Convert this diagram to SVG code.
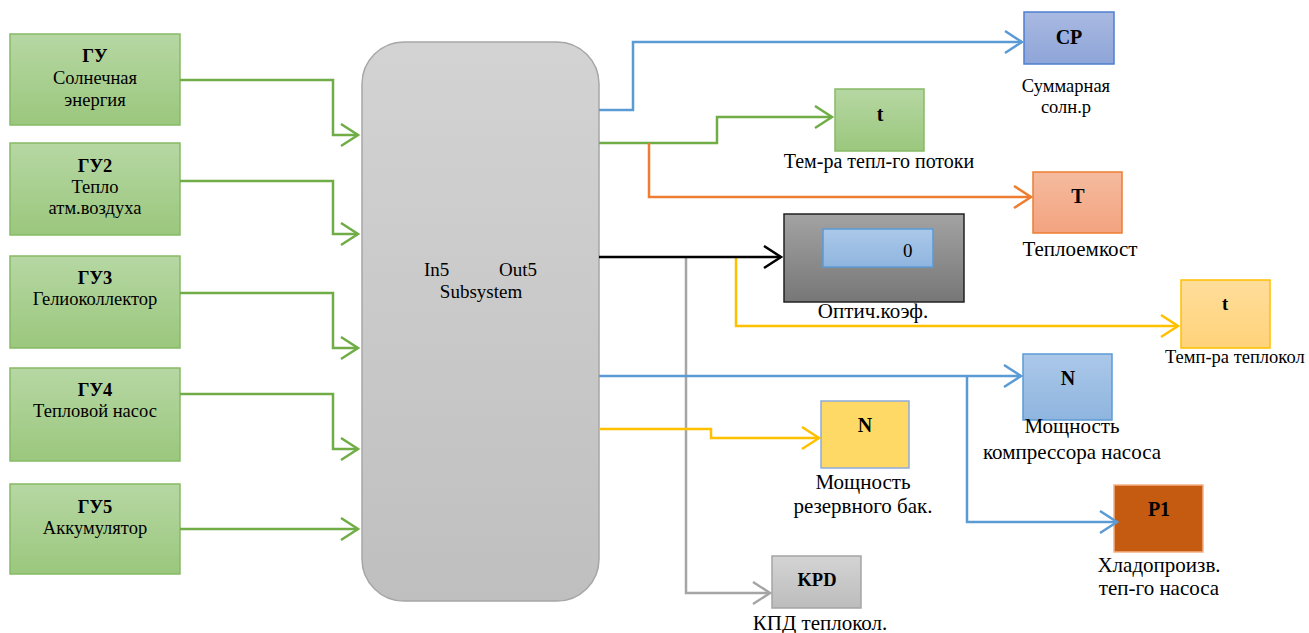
<svg xmlns="http://www.w3.org/2000/svg" width="1309" height="633" viewBox="0 0 1309 633">
<defs>
<linearGradient id="gGreen" x1="0" y1="0" x2="0" y2="1"><stop offset="0" stop-color="#b6d7a3"/><stop offset="1" stop-color="#9bc77d"/></linearGradient>
<linearGradient id="gSub" x1="0" y1="0" x2="0" y2="1"><stop offset="0" stop-color="#d3d3d3"/><stop offset="1" stop-color="#bfbfbf"/></linearGradient>
<linearGradient id="gCP" x1="0" y1="0" x2="0" y2="1"><stop offset="0" stop-color="#a9b9e1"/><stop offset="1" stop-color="#8ea5d8"/></linearGradient>
<linearGradient id="gOr" x1="0" y1="0" x2="0" y2="1"><stop offset="0" stop-color="#f5bb9f"/><stop offset="1" stop-color="#f3a37f"/></linearGradient>
<linearGradient id="gYel" x1="0" y1="0" x2="0" y2="1"><stop offset="0" stop-color="#ffdd9a"/><stop offset="1" stop-color="#ffd37a"/></linearGradient>
<linearGradient id="gBlue" x1="0" y1="0" x2="0" y2="1"><stop offset="0" stop-color="#abc8e9"/><stop offset="1" stop-color="#8fb5df"/></linearGradient>
<linearGradient id="gGray" x1="0" y1="0" x2="0" y2="1"><stop offset="0" stop-color="#d4d4d4"/><stop offset="1" stop-color="#bcbcbc"/></linearGradient>
<linearGradient id="gDark" x1="0" y1="0" x2="0" y2="1"><stop offset="0" stop-color="#a3a3a3"/><stop offset="1" stop-color="#777777"/></linearGradient>
<marker id="aGreen" markerUnits="userSpaceOnUse" markerWidth="24" markerHeight="26" refX="18" refY="12" orient="auto"><path d="M1,1 L18,12 L1,23" fill="none" stroke="#70ad47" stroke-width="2.5"/></marker>
<marker id="aBlue" markerUnits="userSpaceOnUse" markerWidth="24" markerHeight="26" refX="18" refY="12" orient="auto"><path d="M1,1 L18,12 L1,23" fill="none" stroke="#5b9bd5" stroke-width="2.5"/></marker>
<marker id="aOrange" markerUnits="userSpaceOnUse" markerWidth="24" markerHeight="26" refX="18" refY="12" orient="auto"><path d="M1,1 L18,12 L1,23" fill="none" stroke="#ed7d31" stroke-width="2.5"/></marker>
<marker id="aYellow" markerUnits="userSpaceOnUse" markerWidth="24" markerHeight="26" refX="18" refY="12" orient="auto"><path d="M1,1 L18,12 L1,23" fill="none" stroke="#ffc000" stroke-width="2.5"/></marker>
<marker id="aGray" markerUnits="userSpaceOnUse" markerWidth="24" markerHeight="26" refX="18" refY="12" orient="auto"><path d="M1,1 L18,12 L1,23" fill="none" stroke="#a5a5a5" stroke-width="2.5"/></marker>
<marker id="aBlack" markerUnits="userSpaceOnUse" markerWidth="24" markerHeight="26" refX="18" refY="12" orient="auto"><path d="M1,1 L18,12 L1,23" fill="none" stroke="#000000" stroke-width="2.5"/></marker>
</defs>
<style>
text{font-family:'Liberation Serif','Times New Roman',serif;fill:#000;}
.c{text-anchor:middle;}
.t18{font-size:18.5px;}
.t19{font-size:19px;}
.t20{font-size:20px;}
.t21{font-size:21px;}
.b{font-weight:bold;font-size:20px;}
.bs{font-weight:bold;font-size:18.5px;}
.gbox{fill:url(#gGreen);stroke:#86bb66;stroke-width:1.5;}
.ln{fill:none;stroke-width:2.5;}
.lg{stroke:#70ad47;marker-end:url(#aGreen);}
.lb{stroke:#5b9bd5;}
.lo{stroke:#ed7d31;}
.ly{stroke:#ffc000;}
.lgr{stroke:#a5a5a5;}
.lk{stroke:#000;}
</style>
<rect width="1309" height="633" fill="#ffffff"/>

<g id="gu1"><rect class="gbox" x="10" y="34" width="170" height="91"/><text class="c bs" x="95" y="62">ГУ</text><text class="c t18" x="95" y="84">Солнечная</text><text class="c t18" x="95" y="106">энергия</text></g>
<g id="gu2"><rect class="gbox" x="10" y="143" width="170" height="92"/><text class="c bs" x="95" y="172">ГУ2</text><text class="c t18" x="95" y="193">Тепло</text><text class="c t18" x="95" y="214">атм.воздуха</text></g>
<g id="gu3"><rect class="gbox" x="10" y="256" width="170" height="92"/><text class="c bs" x="95" y="284">ГУ3</text><text class="c t18" x="95" y="305">Гелиоколлектор</text></g>
<g id="gu4"><rect class="gbox" x="10" y="368" width="170" height="93"/><text class="c bs" x="95" y="396">ГУ4</text><text class="c t18" x="95" y="417">Тепловой насос</text></g>
<g id="gu5"><rect class="gbox" x="10" y="484" width="170" height="90"/><text class="c bs" x="95" y="513">ГУ5</text><text class="c t18" x="95" y="534">Аккумулятор</text></g>

<g id="subsystem"><rect x="362" y="42" width="237" height="559" rx="42" ry="42" fill="url(#gSub)" stroke="#a6a6a6" stroke-width="1.5"/><text class="t19" x="424" y="276">In5</text><text class="t19" x="499" y="276">Out5</text><text class="c t19" x="481" y="298">Subsystem</text></g>

<g id="cp"><rect x="1024" y="12" width="90" height="52" fill="url(#gCP)" stroke="#4f7fcf" stroke-width="1.5"/><text class="c b" x="1069" y="44">CP</text><text class="c t18" x="1066" y="92">Суммарная</text><text class="c t18" x="1066" y="113">солн.р</text></g>
<g id="t-green"><rect x="835" y="89" width="89" height="62" fill="url(#gGreen)" stroke="#86bb66" stroke-width="1.5"/><text class="c b" x="880" y="121">t</text><text class="c t20" x="879" y="168">Тем-ра тепл-го потоки</text></g>
<g id="T-orange"><rect x="1033" y="172" width="89" height="61" fill="url(#gOr)" stroke="#ed7d31" stroke-width="1.5"/><text class="c b" x="1078" y="203">T</text><text class="c t21" x="1080" y="256">Теплоемкост</text></g>
<g id="display"><rect x="784" y="214" width="180" height="88" fill="url(#gDark)" stroke="#222" stroke-width="1.5"/><rect x="823" y="229" width="110" height="38" fill="url(#gBlue)" stroke="#5b9bd5" stroke-width="1.5"/><text class="t19" x="903" y="257">0</text><text class="c t21" x="873" y="318">Оптич.коэф.</text></g>
<g id="t-yellow"><rect x="1181" y="280" width="89" height="68" fill="url(#gYel)" stroke="#ffc000" stroke-width="1.5"/><text class="c bs" x="1225" y="310">t</text><text class="t18" x="1165" y="363">Темп-ра теплокол</text></g>
<g id="N-blue"><rect x="1023" y="354" width="89" height="66" fill="url(#gBlue)" stroke="#5b9bd5" stroke-width="1.5"/><text class="c b" x="1068" y="385">N</text><text class="c t21" x="1072" y="433">Мощность</text><text class="c t21" x="1072" y="459">компрессора насоса</text></g>
<g id="N-yellow"><rect x="821" y="401" width="88" height="67" fill="#ffd966" stroke="#8eaadb" stroke-width="1.5"/><text class="c b" x="865" y="432">N</text><text class="c t21" x="863" y="489">Мощность</text><text class="c t21" x="863" y="513">резервного бак.</text></g>
<g id="P1"><rect x="1114" y="485" width="89" height="67" fill="#c55a11" stroke="#f4b183" stroke-width="1.5"/><text class="c b" x="1159" y="516">P1</text><text class="c t21" x="1159" y="572">Хладопроизв.</text><text class="c t21" x="1159" y="595">теп-го насоса</text></g>
<g id="KPD"><rect x="772" y="556" width="89" height="52" fill="url(#gGray)" stroke="#a5a5a5" stroke-width="1.5"/><text class="c bs" x="817" y="586">KPD</text><text class="c t21" x="820" y="630">КПД теплокол.</text></g>

<g id="connectors">
<path class="ln lg" d="M180,80 H333 V135 H358"/>
<path class="ln lg" d="M180,181 H333 V234 H358"/>
<path class="ln lg" d="M180,293 H333 V348 H358"/>
<path class="ln lg" d="M180,394 H333 V449 H358"/>
<path class="ln lg" d="M180,529 H358"/>
<path class="ln lb" d="M599,110 H633 V42 H1022" marker-end="url(#aBlue)"/>
<path class="ln lg" d="M599,143 H717 V117 H832"/>
<path class="ln lo" d="M649,143 V197 H1031" marker-end="url(#aOrange)"/>
<path class="ln lgr" d="M686,257 V593 H770" marker-end="url(#aGray)"/>
<path class="ln ly" d="M736,257 V326 H1178" marker-end="url(#aYellow)"/>
<path class="ln lk" d="M599,257 H781" marker-end="url(#aBlack)"/>
<path class="ln lb" d="M599,376 H1021" marker-end="url(#aBlue)"/>
<path class="ln lb" d="M967,376 V522 H1117" marker-end="url(#aBlue)"/>
<path class="ln ly" d="M599,429 H711 V438 H819" marker-end="url(#aYellow)"/>
</g>
</svg>
